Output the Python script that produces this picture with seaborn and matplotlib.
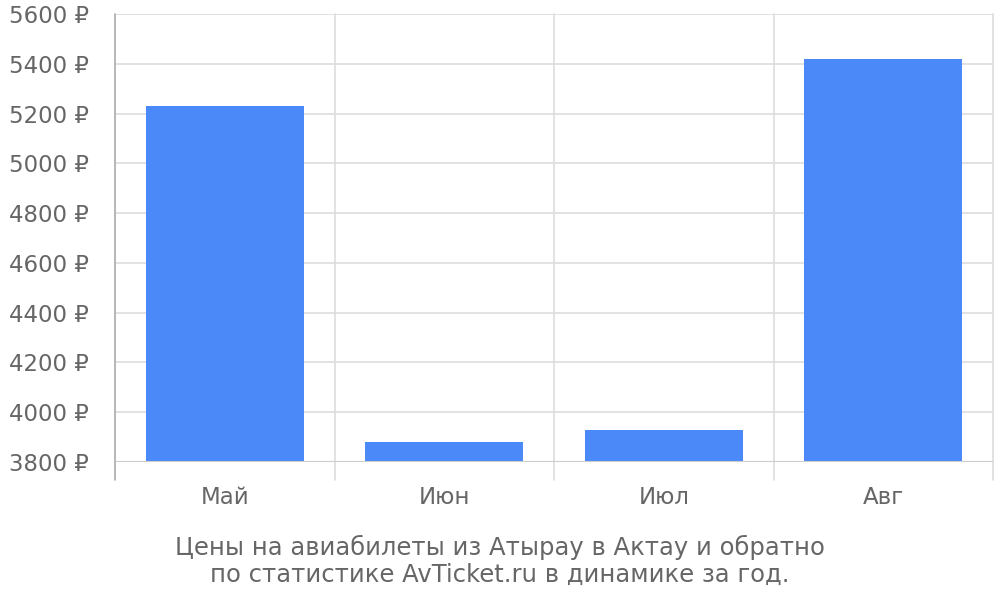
import matplotlib
matplotlib.use("Agg")
import matplotlib.pyplot as plt
import seaborn as sns
import pandas as pd

# данные
months = ["Май", "Июн", "Июл", "Авг"]
prices = [5230, 3882, 3927, 5419]
y_ticks = [3800, 4000, 4200, 4400, 4600, 4800, 5000, 5200, 5400, 5600]
caption = "Цены на авиабилеты из Атырау в Актау и обратно\nпо статистике AvTicket.ru в динамике за год."

df = pd.DataFrame({"month": months, "price": prices})

sns.set_style("white")
plt.rcParams["font.family"] = ["DejaVu Sans"]

fig = plt.figure(figsize=(10, 6), dpi=100)
ax = fig.add_axes([0.115, 0.23, 0.878, 0.7467])

sns.barplot(data=df, x="month", y="price", color="#4b89f9", width=0.72,
            saturation=1, linewidth=0, ax=ax, zorder=2)

ax.set_ylim(y_ticks[0], y_ticks[-1])
ax.set_xlim(-0.5, len(months) - 0.5)
ax.set_yticks(y_ticks)
ax.set_yticklabels([f"{v} ₽" for v in y_ticks])
ax.set_xlabel("")
ax.set_ylabel("")

grid_c = "#dddddd"
ax.grid(axis="y", color=grid_c, linewidth=1.2, zorder=0)
ax.tick_params(axis="y", length=15, color=grid_c, width=1.2, pad=4,
               labelsize=16.5, labelcolor="#666666")
ax.tick_params(axis="x", length=0, pad=17, labelsize=16.5, labelcolor="#666666")

# вертикальные линии между категориями, с "хвостом" вниз
bounds = [i - 0.5 for i in range(len(months) + 1)]
for b in bounds[1:]:
    ax.axvline(b, ymin=-0.04, ymax=1, color=grid_c, linewidth=1.2,
               clip_on=False, zorder=0)
ax.axvline(bounds[0], ymin=-0.04, ymax=1, color="#aaaaaa", linewidth=1.2,
           clip_on=False, zorder=3)

for s in ["top", "right", "left", "bottom"]:
    ax.spines[s].set_visible(False)
ax.axhline(y_ticks[0], color="#cccccc", linewidth=1.5, zorder=3)

fig.text(0.5, 0.065, caption, ha="center", va="center", fontsize=17.5,
         color="#666666", linespacing=1.18)

fig.savefig("out.png", dpi=100)
